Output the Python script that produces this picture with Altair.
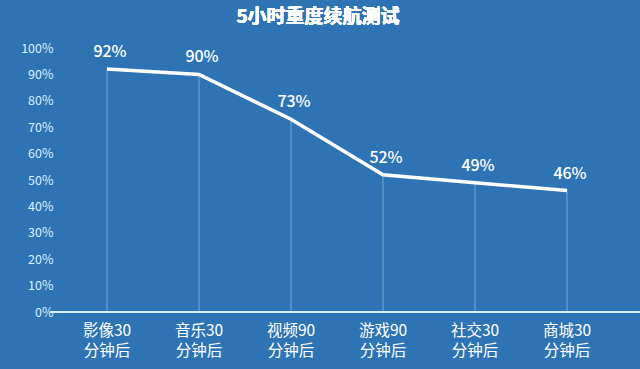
import altair as alt
import pandas as pd

cat_line1 = ["影像30", "音乐30", "视频90", "游戏90", "社交30", "商城30"]
cat_line2 = ["分钟后", "分钟后", "分钟后", "分钟后", "分钟后", "分钟后"]
values = [92, 90, 73, 52, 49, 46]
labels = ["92%", "90%", "73%", "52%", "49%", "46%"]
title_text = "5小时重度续航测试"

df = pd.DataFrame({"cat": cat_line1, "cat2": cat_line2, "val": values, "lab": labels})

FONT = "Noto Sans CJK SC"
BG = "#2e74b5"

x = alt.X("cat:N", sort=cat_line1, scale=alt.Scale(paddingInner=0, paddingOuter=0),
          axis=alt.Axis(title=None, labelAngle=0,
                        labelColor="#ffffff", labelFontSize=15.5, labelFont=FONT,
                        labelPadding=18, ticks=False, domain=False,
                        labelBaseline="middle"))
y = alt.Y("val:Q", scale=alt.Scale(domain=[0, 100], nice=False),
          axis=alt.Axis(title=None, values=list(range(0, 101, 10)),
                        labelExpr="datum.value + '%'", labelColor="#dcefff",
                        labelFontSize=12.5, labelFont=FONT, labelPadding=8,
                        ticks=False, domain=False, grid=False))

base = alt.Chart(df)

drops = base.mark_rule(color="#cfe6ff", strokeWidth=1, opacity=0.45).encode(
    x=x, y=y, y2=alt.datum(0))

line = base.mark_line(color="#ffffff", strokeWidth=3.5).encode(x=x, y=y)

text = base.mark_text(color="#ffffff", fontSize=16, font=FONT, fontWeight=500, dy=-17, dx=3).encode(
    x=x, y=y, text="lab:N")

line2 = base.mark_text(color="#ffffff", fontSize=15.5, font=FONT, baseline="middle").encode(
    x=x, y=alt.value(303), text="cat2:N")

axisline = base.mark_rule(color="#d6f2ff", strokeWidth=2).encode(
    x=alt.value(-11), x2=alt.value(579), y=alt.value(264))

title = base.mark_text(color="#ffffff", fontSize=19, fontWeight="bold", font=FONT).encode(
    x=alt.value(257), y=alt.value(-31), text=alt.datum(title_text))

chart = alt.layer(drops, line, axisline, text, line2, title).properties(
    width=552, height=264, background=BG,
    padding={"left": 61, "top": 48, "right": 27, "bottom": 57},
    autosize=alt.AutoSizeParams(type="none")
).configure_view(stroke=None)

chart.save("out.html", embed_options={"renderer": "svg", "actions": False})
